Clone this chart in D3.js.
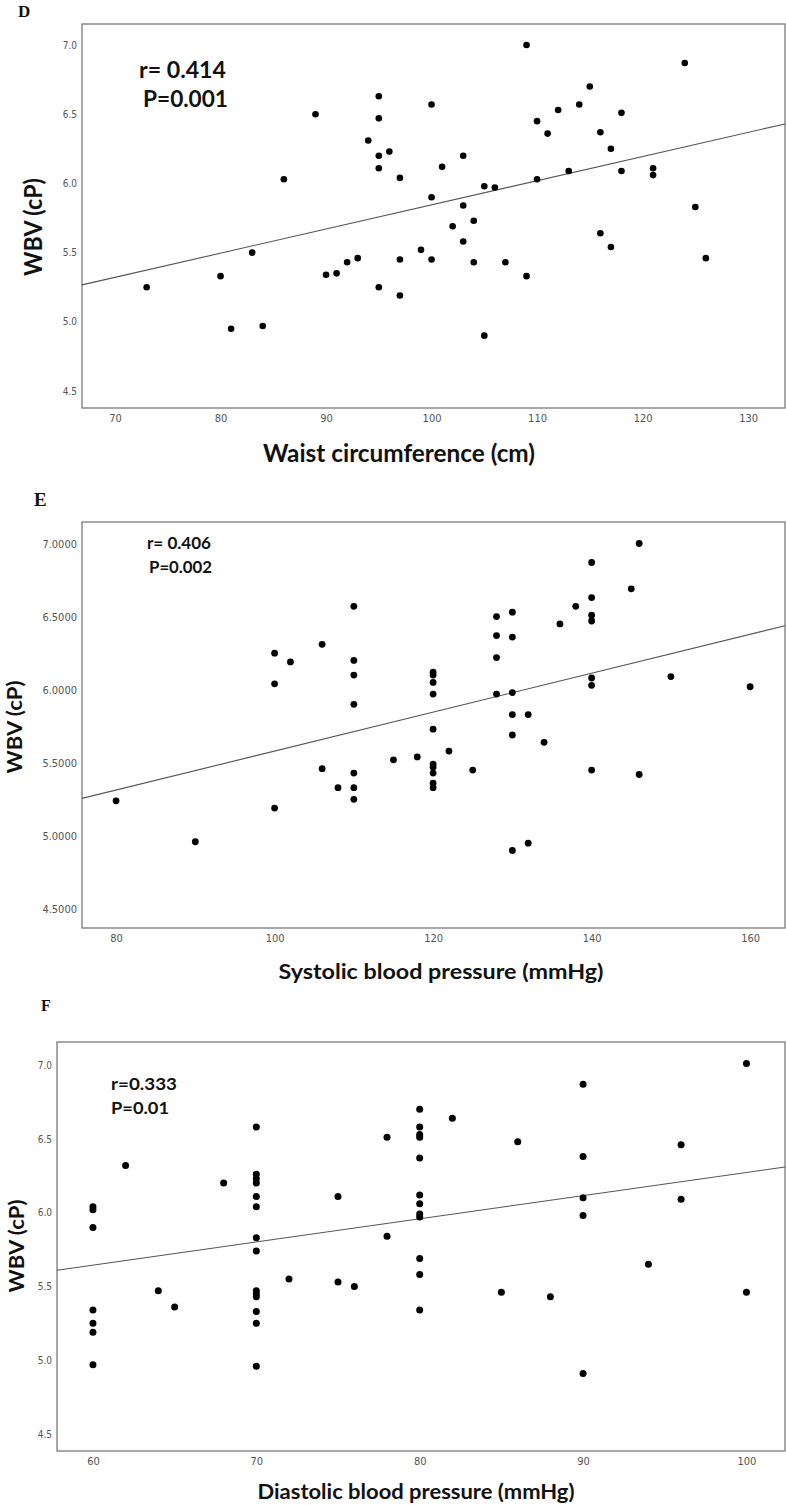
<!DOCTYPE html>
<html>
<head>
<meta charset="utf-8">
<script src="https://cdn.jsdelivr.net/npm/d3@7"></script>
<style>
  html, body { margin: 0; padding: 0; background: #fff; }
  svg { display: block; }
  .tick text { font-family: "Liberation Sans Narrow", "Arial Narrow", "DejaVu Sans Condensed", sans-serif; fill: #555; font-size: 11px; }
  .title { font-family: Lato, "Open Sans", sans-serif; font-weight: bold; fill: #111; }
  .letter { font-family: "Liberation Serif", "Times New Roman", serif; font-weight: bold; fill: #111; }
</style>
</head>
<body>
<svg id="chart" width="786" height="1505"></svg>
<script>
// ---------- DATA ----------
const wbvTicks = [4.5, 5.0, 5.5, 6.0, 6.5, 7.0];

// Panel D: waist circumference (cm) vs WBV (cP)
const waistTicks = [70, 80, 90, 100, 110, 120, 130];
const waistX = [73, 80, 81, 83, 84, 86, 89, 90, 91, 92, 93, 94, 95, 95, 95, 95, 95, 96, 97, 97, 97, 99,
  100, 100, 100, 101, 102, 103, 103, 103, 104, 104, 105, 105, 106, 107, 109, 109, 110, 110, 111, 112,
  113, 114, 115, 116, 116, 117, 117, 118, 118, 121, 121, 124, 125, 126];
const waistWBV = [5.25, 5.33, 4.95, 5.50, 4.97, 6.03, 6.50, 5.34, 5.35, 5.43, 5.46, 6.31, 6.63, 6.47, 6.20, 6.11, 5.25, 6.23, 6.04, 5.45, 5.19, 5.52,
  6.57, 5.90, 5.45, 6.12, 5.69, 6.20, 5.84, 5.58, 5.73, 5.43, 5.98, 4.90, 5.97, 5.43, 7.00, 5.33, 6.45, 6.03, 6.36, 6.53,
  6.09, 6.57, 6.70, 6.37, 5.64, 6.25, 5.54, 6.51, 6.09, 6.11, 6.06, 6.87, 5.83, 5.46];
const waistFit = [4.099, 0.01746];   // intercept, slope
const waistStats = ["r= 0.414", "P=0.001"];

// Panel E: systolic blood pressure (mmHg) vs WBV
const sbpTicks = [80, 100, 120, 140, 160];
const sbpX = [80, 90, 100, 100, 100, 102, 106, 106, 108, 110, 110, 110, 110, 110, 110, 110, 115, 118,
  120, 120, 120, 120, 120, 120, 120, 120, 120, 120, 122, 125, 128, 128, 128, 128, 130, 130, 130, 130, 130, 130,
  132, 132, 134, 136, 138, 140, 140, 140, 140, 140, 140, 140, 145, 146, 146, 150, 160];
const sbpWBV = [5.24, 4.96, 6.25, 6.04, 5.19, 6.19, 6.31, 5.46, 5.33, 6.57, 6.20, 6.10, 5.90, 5.43, 5.33, 5.25, 5.52, 5.54,
  6.12, 6.10, 6.05, 5.97, 5.73, 5.49, 5.47, 5.43, 5.36, 5.33, 5.58, 5.45, 6.50, 6.37, 6.22, 5.97, 6.53, 6.36, 5.98, 5.83, 5.69, 4.90,
  5.83, 4.95, 5.64, 6.45, 6.57, 6.87, 6.63, 6.51, 6.47, 6.08, 6.03, 5.45, 6.69, 7.00, 5.42, 6.09, 6.02];
const sbpFit = [4.249, 0.01331];
const sbpStats = ["r= 0.406", "P=0.002"];

// Panel F: diastolic blood pressure (mmHg) vs WBV
const dbpTicks = [60, 70, 80, 90, 100];
const dbpX = [60, 60, 60, 60, 60, 60, 60, 62, 64, 65, 68, 70, 70, 70, 70, 70, 70, 70, 70, 70, 70, 70, 70, 70, 70,
  72, 75, 75, 76, 78, 78, 80, 80, 80, 80, 80, 80, 80, 80, 80, 80, 80, 80, 82, 85, 86, 88, 90, 90, 90, 90, 90,
  94, 96, 96, 100, 100];
const dbpWBV = [6.04, 6.02, 5.90, 5.34, 5.25, 5.19, 4.97, 6.32, 5.47, 5.36, 6.20, 6.58, 6.26, 6.23, 6.20, 6.11, 6.04, 5.83, 5.74, 5.47, 5.45, 5.43, 5.33, 5.25, 4.96,
  5.55, 6.11, 5.53, 5.50, 6.51, 5.84, 6.70, 6.58, 6.53, 6.51, 6.37, 6.12, 6.06, 5.99, 5.97, 5.69, 5.58, 5.34, 6.64, 5.46, 6.48, 5.43, 6.87, 6.38, 6.10, 5.98, 4.91,
  5.65, 6.46, 6.09, 7.01, 5.46];
const dbpFit = [4.703, 0.01569];
const dbpStats = ["r=0.333", "P=0.01"];

// ---------- DRAW ----------
const svg = d3.select("#chart");

function panel(cfg) {
  const g = svg.append("g");
  const x = d3.scaleLinear().domain(cfg.xDomain).range([cfg.left, cfg.right]);
  const y = d3.scaleLinear().domain(cfg.yDomain).range([cfg.bottom, cfg.top]);

  g.append("text").attr("class", "letter")
    .attr("x", cfg.letterPos[0]).attr("y", cfg.letterPos[1])
    .style("font-size", cfg.letterSize + "px").text(cfg.letter);

  const ya = g.append("g").attr("transform", `translate(${cfg.left - 5},0)`)
    .call(d3.axisLeft(y).tickValues(wbvTicks).tickSize(0).tickPadding(0).tickFormat(d3.format(cfg.yFormat)));
  ya.select(".domain").remove();
  ya.selectAll("text").style("font-size", cfg.yTickSize + "px");

  const xa = g.append("g").attr("transform", `translate(0,${cfg.bottom + 6})`)
    .call(d3.axisBottom(x).tickValues(cfg.xTicks).tickSize(0).tickPadding(0).tickFormat(d3.format("d")));
  xa.select(".domain").remove();
  xa.selectAll("text").attr("dy", "0.71em").style("font-size", "11px");

  g.append("rect").attr("x", cfg.left).attr("y", cfg.top)
    .attr("width", cfg.right - cfg.left).attr("height", cfg.bottom - cfg.top)
    .attr("fill", "none").attr("stroke", "#7a7a7a").attr("stroke-width", 1.3);

  const x0 = cfg.xDomain[0], x1 = cfg.xDomain[1];
  g.append("line")
    .attr("x1", x(x0)).attr("y1", y(cfg.fit[0] + cfg.fit[1] * x0))
    .attr("x2", x(x1)).attr("y2", y(cfg.fit[0] + cfg.fit[1] * x1))
    .attr("stroke", "#555").attr("stroke-width", 1.1);

  const pts = cfg.xs.map((v, i) => [v, cfg.ys[i]]);
  g.selectAll("circle.pt").data(pts).enter().append("circle")
    .attr("class", "pt")
    .attr("cx", d => x(d[0])).attr("cy", d => y(d[1]))
    .attr("r", cfg.r).attr("fill", "#000");

  cfg.stats.forEach((s, i) => {
    g.append("text").attr("class", "title")
      .attr("x", cfg.statPos[i][0]).attr("y", cfg.statPos[i][1])
      .style("font-size", cfg.statSize + "px")
      .attr("textLength", cfg.statW[i]).attr("lengthAdjust", "spacingAndGlyphs")
      .text(s);
  });

  g.append("text").attr("class", "title")
    .attr("x", cfg.xTitlePos[0]).attr("y", cfg.xTitlePos[1])
    .attr("text-anchor", "middle")
    .style("font-size", cfg.xTitleSize + "px")
    .attr("textLength", cfg.xTitleW).attr("lengthAdjust", "spacingAndGlyphs")
    .text(cfg.xTitle);

  g.append("text").attr("class", "title")
    .attr("transform", `translate(${cfg.yTitlePos[0]},${cfg.yTitlePos[1]}) rotate(-90)`)
    .attr("text-anchor", "middle")
    .style("font-size", cfg.yTitleSize + "px")
    .attr("textLength", cfg.yTitleW).attr("lengthAdjust", "spacingAndGlyphs")
    .text("WBV (cP)");
}

panel({
  letter: "D", letterPos: [18, 17], letterSize: 17,
  left: 82, right: 785, top: 24, bottom: 408,
  xDomain: [66.87, 133.5], yDomain: [4.377, 7.152],
  xTicks: waistTicks, yFormat: ".1f", yTickSize: 10,
  xs: waistX, ys: waistWBV, fit: waistFit, r: 3.3,
  stats: waistStats, statPos: [[139, 78], [143, 107]], statSize: 22, statW: [87, 85],
  xTitle: "Waist circumference (cm)", xTitlePos: [399, 462], xTitleSize: 24, xTitleW: 272,
  yTitlePos: [42, 227], yTitleSize: 25, yTitleW: 98
});

panel({
  letter: "E", letterPos: [34, 506], letterSize: 19,
  left: 82, right: 785, top: 522, bottom: 928,
  xDomain: [75.7, 164.4], yDomain: [4.37, 7.147],
  xTicks: sbpTicks, yFormat: ".4f", yTickSize: 11,
  xs: sbpX, ys: sbpWBV, fit: sbpFit, r: 3.4,
  stats: sbpStats, statPos: [[147, 549], [149, 573]], statSize: 17, statW: [64, 63],
  xTitle: "Systolic blood pressure (mmHg)", xTitlePos: [441, 979], xTitleSize: 21, xTitleW: 325,
  yTitlePos: [22, 727], yTitleSize: 21, yTitleW: 93
});

panel({
  letter: "F", letterPos: [41, 1011], letterSize: 16,
  left: 57, right: 785, top: 1042, bottom: 1451,
  xDomain: [57.8, 102.36], yDomain: [4.385, 7.156],
  xTicks: dbpTicks, yFormat: ".1f", yTickSize: 10,
  xs: dbpX, ys: dbpWBV, fit: dbpFit, r: 3.5,
  stats: dbpStats, statPos: [[111, 1090], [111, 1114]], statSize: 17, statW: [66, 58],
  xTitle: "Diastolic blood pressure (mmHg)", xTitlePos: [416, 1499], xTitleSize: 21, xTitleW: 317,
  yTitlePos: [24, 1246], yTitleSize: 21, yTitleW: 93
});
</script>
</body>
</html>
